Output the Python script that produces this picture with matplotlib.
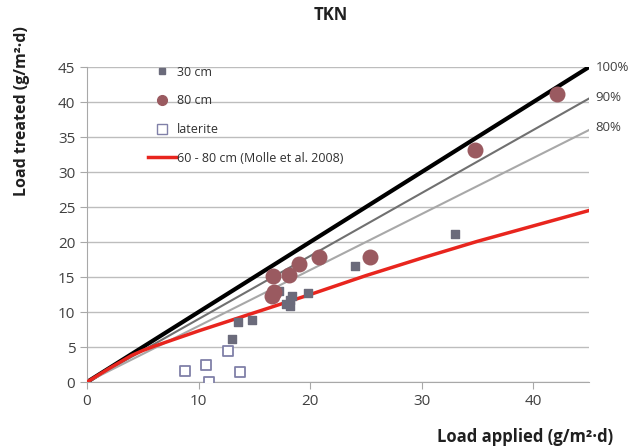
import matplotlib
matplotlib.use("Agg")
import matplotlib.pyplot as plt
from matplotlib.lines import Line2D

plt.rcParams['font.family'] = ['Open Sans', 'DejaVu Sans']

# Measured loads (g/m2.d)
cm30_applied = [13.5, 14.8, 13.0, 17.2, 18.4, 17.8, 18.2, 18.2, 19.8, 24.0, 33.0]
cm30_treated = [8.6, 8.9, 6.2, 13.0, 12.3, 11.2, 10.9, 11.7, 12.7, 16.6, 21.2]

cm80_applied = [16.7, 18.1, 19.0, 20.8, 16.6, 16.8, 25.4, 34.8, 42.1]
cm80_treated = [15.2, 15.3, 16.8, 17.9, 12.3, 12.9, 17.8, 33.2, 41.2]

laterite_applied = [8.8, 10.7, 10.9, 12.6, 13.7]
laterite_treated = [1.6, 2.5, 0.0, 4.4, 1.5]

# Reference curve, Molle et al. 2008
molle_applied = [0, 2, 4, 5, 6, 8, 10, 15, 20, 25, 30, 35, 40, 45]
molle_treated = [0, 1.95, 3.8, 4.5, 5.1, 6.2, 7.3, 9.9, 12.5, 15.2, 17.7, 20.1, 22.3, 24.5]

# Treatment efficiency lines
efficiencies = [1.0, 0.9, 0.8]
eff_labels = ["100%", "90%", "80%"]
x_max = 45

fig = plt.figure(figsize=(6.32, 4.48), dpi=100)
ax = fig.add_axes([0.1377, 0.1473, 0.7943, 0.7031])

ax.set_xlim(0, 45)
ax.set_ylim(0, 45)
ax.set_xticks([0, 10, 20, 30, 40])
ax.set_yticks(range(0, 50, 5))
ax.yaxis.grid(True, color="#bdbdbd", linewidth=1)
ax.set_axisbelow(True)
for s in ["top", "right"]:
    ax.spines[s].set_visible(False)
for s in ["left", "bottom"]:
    ax.spines[s].set_color("#a8a8a8")
ax.tick_params(axis="both", colors="#a8a8a8", labelcolor="#404040",
               labelsize=11, length=5)

eff_styles = [("#000000", 3.0), ("#707070", 1.5), ("#a8a8a8", 1.5)]
for e, (c, lw) in zip(efficiencies, eff_styles):
    ax.plot([0, x_max], [0, e * x_max], color=c, linewidth=lw, zorder=2)

ax.plot(molle_applied, molle_treated, color="#e8251e", linewidth=2.5,
        zorder=3)

ax.scatter(cm30_applied, cm30_treated, marker="s", s=30, color="#6b6b7b",
           zorder=4)
ax.scatter(cm80_applied, cm80_treated, marker="o", s=110, color="#9a5a60",
           zorder=4)
ax.scatter(laterite_applied, laterite_treated, marker="s", s=60,
           facecolor="white", edgecolor="#8080a8", linewidth=1.3, zorder=4)

label_y = [45, 40.6, 36.4]
for lab, yv in zip(eff_labels, label_y):
    ax.text(x_max + 0.6, yv, lab, fontsize=9.5, color="#404040",
            va="center", ha="left", clip_on=False)

handles = [
    Line2D([], [], marker="s", linestyle="none", color="#6b6b7b",
           markersize=5),
    Line2D([], [], marker="o", linestyle="none", color="#9a5a60",
           markersize=7),
    Line2D([], [], marker="s", linestyle="none", markerfacecolor="white",
           markeredgecolor="#8080a8", markersize=7),
    Line2D([], [], color="#e8251e", linewidth=2.5),
]
labels = ["30 cm", "80 cm", "laterite", "60 - 80 cm (Molle et al. 2008)"]
ax.legend(handles, labels, loc="upper left", bbox_to_anchor=(0.1, 1.04),
          frameon=False, fontsize=9, labelspacing=1.25, handlelength=2.2,
          handletextpad=0.1, labelcolor="#303030")

fig.text(0.524, 0.966, "TKN", fontsize=12, fontweight="bold",
         ha="center", va="center", color="#202020")
fig.text(0.831, 0.025, "Load applied (g/m²·d)", fontsize=12,
         fontweight="bold", ha="center", va="center", color="#202020")
fig.text(0.035, 0.752, "Load treated (g/m²·d)", fontsize=11.5,
         fontweight="bold", ha="center", va="center", rotation=90,
         color="#202020")

fig.savefig("out.png", dpi=100)
